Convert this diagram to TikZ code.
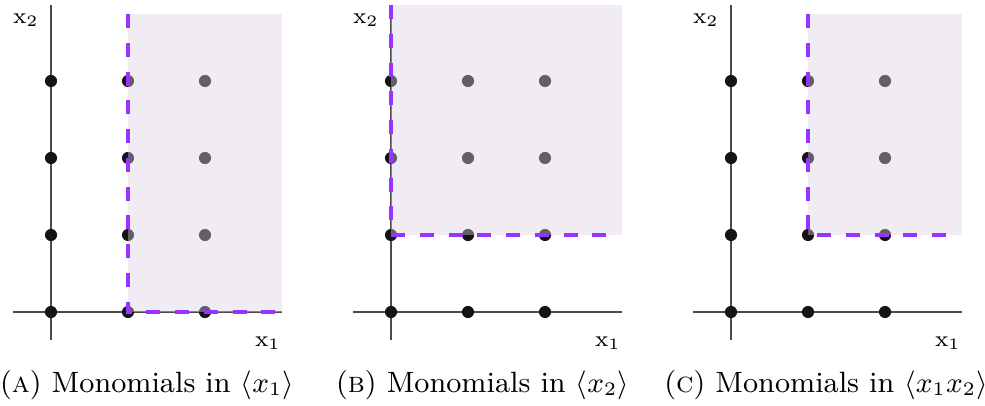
\documentclass[tikz,border=0pt]{standalone}
\usepackage{amsmath,amssymb}
\usepackage{xcolor}
\usepackage{tikz}
\usetikzlibrary{positioning}
\definecolor{violet}{RGB}{153,51,255}
\definecolor{lilac}{RGB}{220,207,228}
\definecolor{ink}{RGB}{20,20,20}
\tikzset{
    axisline/.style={draw=black!70,line width=0.45pt},
    latticept/.style={circle,fill=ink,inner sep=0pt,minimum size=3.8pt},
    idealfill/.style={fill=lilac,fill opacity=0.4,draw=none},
    idealedge/.style={draw=violet,line width=1.4pt,dash pattern=on 4.4pt off 4.6pt},
    axislabel/.style={font=\scriptsize,inner sep=0pt},
    subcaption/.style={font=\fontsize{9.2}{11}\selectfont,inner sep=0pt}
}

\begin{document}
\begin{tikzpicture}[x=0.011cm,y=-0.011cm]
  \useasboundingbox (0,0) rectangle (985,406);
  \foreach \k/\sub/\gen/\l/\t/\b/\e/\cx in
      {0/a/x_1/128/14/312/282/147,
       1/b/x_2/51/5/235/267/142.5,
       2/c/x_1x_2/128/14/235/275/146}{
  \begin{scope}[shift={(340*\k,0)}]
    % axes
    \coordinate (top\sub) at (51,5);
    \coordinate (bot\sub) at (51,340);
    \coordinate (left\sub) at (13,312);
    \coordinate (right\sub) at (282,312);
    \draw[axisline] (top\sub)--(bot\sub);
    \draw[axisline] (left\sub)--(right\sub);
    % exponent lattice
    \foreach \i in {0,1,2}
      \foreach \j in {0,...,3}
        \node[latticept] (p\sub\i\j) at ({51+77*\i},{312-77*\j}) {};
    % monomials of the ideal
    \coordinate (hi\sub) at (\l,\t);
    \coordinate (corner\sub) at (\l,\b);
    \coordinate (end\sub) at (\e,\b);
    \fill[idealfill] (hi\sub) rectangle (282,\b);
    \draw[idealedge] (hi\sub)--(corner\sub)--(end\sub);
    \node[axislabel] (xtwo\sub) at (26,20) {x$_2$};
    \node[axislabel] (xone\sub) at (268,343) {x$_1$};
    \node[subcaption] (cap\sub) at (\cx,385)
      {(\textsc{\sub}) Monomials in $\langle \gen\rangle$};
  \end{scope}}
\end{tikzpicture}
\end{document}
